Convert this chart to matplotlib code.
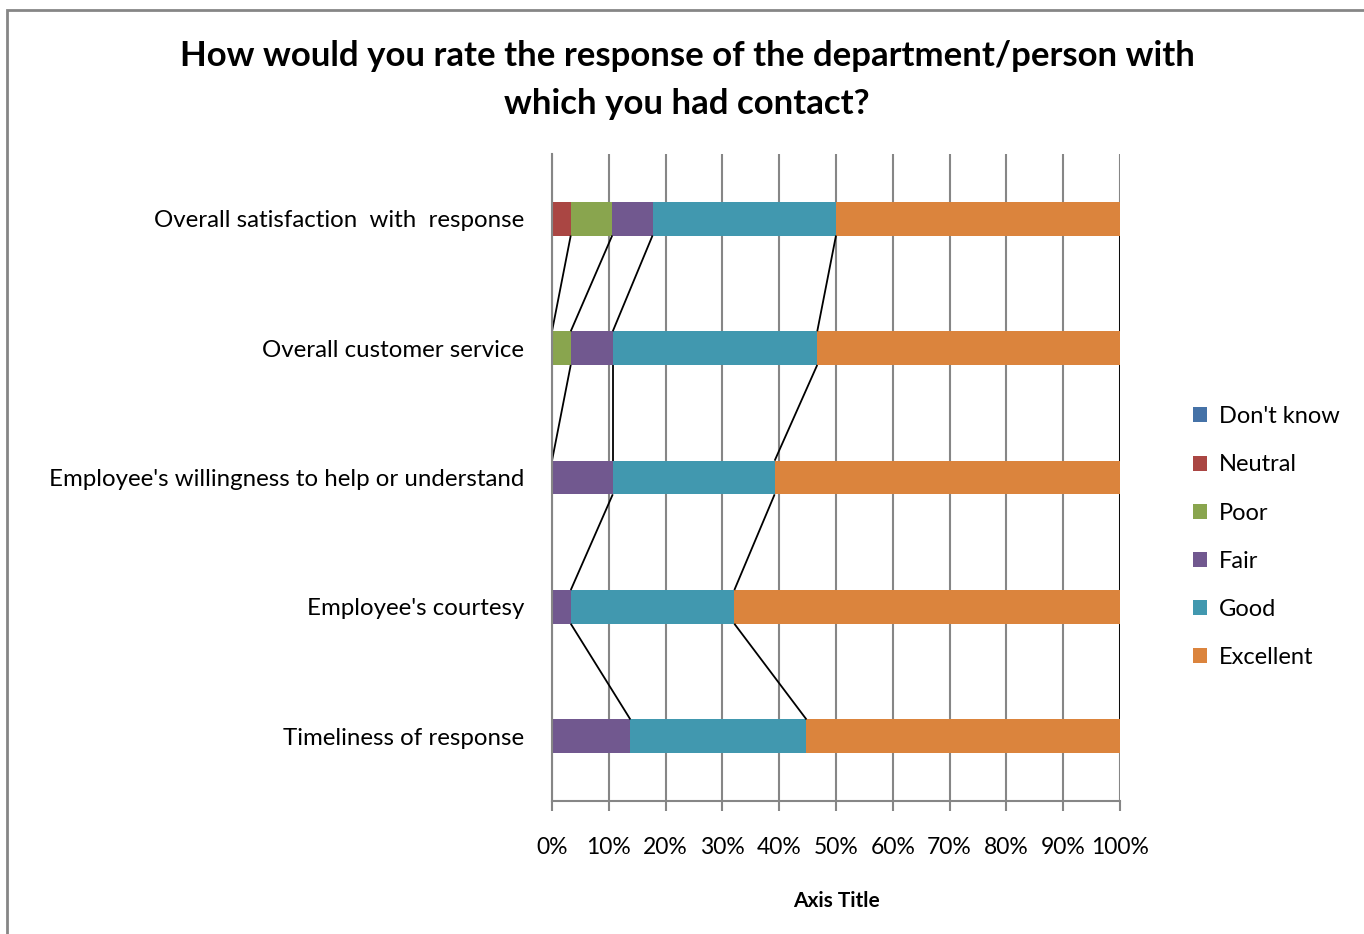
import numpy as np
import matplotlib.pyplot as plt
from matplotlib.patches import Rectangle

# survey answers, share of respondents in percent (bottom row first)
questions = ["Timeliness of response",
             "Employee's courtesy",
             "Employee's willingness to help or understand",
             "Overall customer service",
             "Overall satisfaction  with  response"]
ratings = ["Don't know", "Neutral", "Poor", "Fair", "Good", "Excellent"]

dont_know = [0.0, 0.0, 0.0, 0.0, 0.0]
neutral = [0.0, 0.0, 0.0, 0.0, 3.3]
poor = [0.0, 0.0, 0.0, 3.3, 7.3]
fair = [13.8, 3.3, 10.7, 7.4, 7.1]
good = [31.0, 28.8, 28.5, 36.0, 32.3]
excellent = [55.2, 67.9, 60.8, 53.3, 50.0]

colors = ["#4572A7", "#AA4643", "#89A54E", "#71588F", "#4198AF", "#DB843D"]
font = ["Lato", "DejaVu Sans"]
grid_c = "#868686"

W, H = 1364, 934
fig = plt.figure(figsize=(W / 100, H / 100), dpi=100)
ax = fig.add_axes([552 / W, 1 - 801 / H, (1120 - 552) / W, (801 - 154) / H])

series = np.array([dont_know, neutral, poor, fair, good, excellent])
y = np.arange(len(questions))
bh = 0.26
left = np.zeros(len(questions))
for vals, name, c in zip(series, ratings, colors):
    ax.barh(y, vals, left=left, height=bh, color=c, label=name, zorder=3)
    left = left + vals

# series lines between neighbouring bars (the value axis covers the ones at 0)
cum = np.cumsum(series, axis=0)
for row in cum:
    for i in range(len(questions) - 1):
        if row[i] == 0 and row[i + 1] == 0:
            continue
        ax.plot([row[i], row[i + 1]], [i + bh / 2, i + 1 - bh / 2],
                color="black", lw=1.3, zorder=4, solid_capstyle="butt")

ax.set_xlim(0, 100)
ax.set_ylim(-0.5, len(questions) - 0.5)
ax.set_xticks(np.arange(0, 101, 10))
ax.set_xticklabels([f"{v}%" for v in range(0, 101, 10)], fontfamily=font, fontsize=16.5)
ax.set_yticks(y)
ax.set_yticklabels(questions, fontfamily=font, fontsize=17.3)
ax.tick_params(axis="y", length=0, pad=20)
ax.tick_params(axis="x", length=7, width=1.5, color=grid_c, pad=19)
ax.grid(axis="x", color=grid_c, lw=1.5, zorder=0)
for s in ["top", "right"]:
    ax.spines[s].set_visible(False)
for s in ["left", "bottom"]:
    ax.spines[s].set_color(grid_c)
    ax.spines[s].set_linewidth(1.5)
    ax.spines[s].set_zorder(5)
ax.set_xlabel("Axis Title", fontfamily=font, fontsize=15, fontweight="bold", labelpad=24)

fig.text(0.5 * (177 + 1197) / W, 1 - 80 / H,
         "How would you rate the response of the department/person with\nwhich you had contact?",
         ha="center", va="center", fontfamily=font, fontsize=25, fontweight="bold",
         linespacing=1.62)

leg = fig.legend(loc="upper left", bbox_to_anchor=(1172 / W, 1 - 385 / H), frameon=False,
                 prop={"family": font, "size": 17}, handlelength=0.6, handleheight=0.6,
                 handletextpad=0.5, labelspacing=1.15)

# chart frame
fig.patches.append(Rectangle((7 / W, -0.1), 1.2, 1 - 10 / H + 0.1, transform=fig.transFigure,
                             fill=False, ec=grid_c, lw=2))

fig.savefig("out.png", dpi=100)
